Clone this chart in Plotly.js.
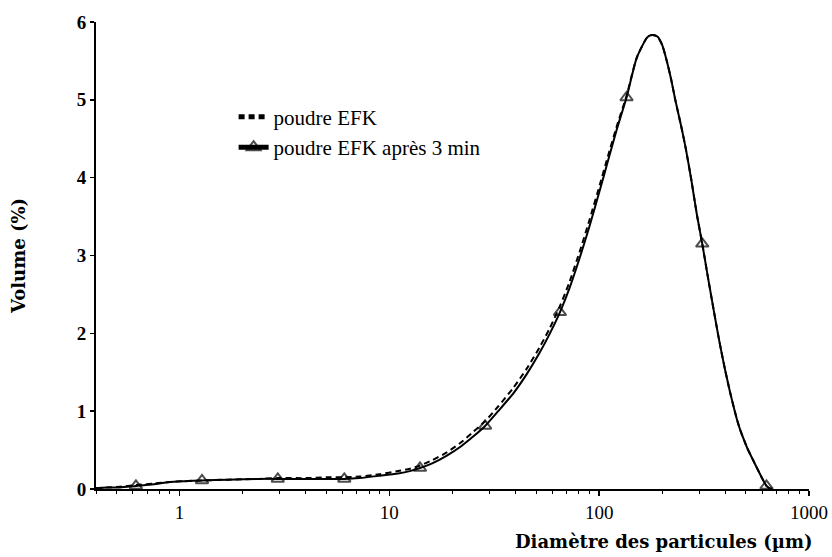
<!DOCTYPE html>
<html>
<head>
<meta charset="utf-8">
<script src="https://cdn.plot.ly/plotly-3.0.1.min.js"></script>
<style>
  html, body { margin: 0; padding: 0; background: #fff; }
  #chart { width: 832px; height: 557px; }
</style>
</head>
<body>
<div id="chart"></div>
<script>
// Particle size distribution (laser diffraction), volume % per size class
const diam = [0.40, 0.45, 0.52, 0.62, 0.75, 0.90, 1.05, 1.28, 1.7, 2.4, 2.94, 4.0, 5.0, 6.1, 7.2, 9.0,
  11, 12.5, 14.0, 16, 18.8, 22, 25,
  28.6, 33, 39, 45, 52, 58, 65, 72, 81, 90, 101, 110, 121, 135,
  151, 169, 176, 183, 190, 200, 210, 220, 231, 246, 258, 275, 292, 310, 327, 345, 365, 380, 399, 420,
  438, 455, 470, 490, 507, 535, 565, 600, 627, 650, 670];

// poudre EFK (dashed)
const volEFK = [0.01, 0.02, 0.03, 0.05, 0.07, 0.09, 0.10, 0.11, 0.12, 0.13, 0.14, 0.14, 0.15, 0.15, 0.16, 0.19,
  0.23, 0.26, 0.30, 0.37, 0.47, 0.60, 0.73,
  0.87, 1.06, 1.30, 1.54, 1.82, 2.06, 2.35, 2.65, 3.06, 3.46, 3.92, 4.27, 4.65, 5.05,
  5.54, 5.80, 5.83, 5.83, 5.81, 5.70, 5.50, 5.27, 4.99, 4.66, 4.39, 3.97, 3.53, 3.15, 2.78, 2.42, 2.05, 1.80, 1.52, 1.25,
  1.05, 0.88, 0.76, 0.63, 0.53, 0.40, 0.27, 0.13, 0.04, 0.01, 0.00];

// poudre EFK après 3 min (solid with triangles)
const volEFK3min = [0.01, 0.02, 0.02, 0.04, 0.06, 0.09, 0.10, 0.11, 0.12, 0.13, 0.13, 0.13, 0.13, 0.13, 0.14, 0.17,
  0.20, 0.23, 0.27, 0.33, 0.43, 0.55, 0.67,
  0.81, 1.00, 1.23, 1.47, 1.75, 1.99, 2.27, 2.57, 2.98, 3.38, 3.85, 4.21, 4.61, 5.03,
  5.54, 5.80, 5.83, 5.83, 5.81, 5.70, 5.50, 5.27, 4.99, 4.66, 4.39, 3.97, 3.53, 3.15, 2.78, 2.42, 2.05, 1.80, 1.52, 1.25,
  1.05, 0.88, 0.76, 0.63, 0.53, 0.40, 0.27, 0.13, 0.04, 0.01, 0.00];

// size classes carrying a triangle symbol on the "après 3 min" curve
const markedDiam = [0.62, 1.28, 2.94, 6.1, 14.0, 28.6, 65, 135, 310, 627];

const yTickVals = [0, 1, 2, 3, 4, 5, 6];
const xTickVals = [1, 10, 100, 1000];
const xTickText = ['1', '10', '100', '1000'];

const seriesNames = ['poudre EFK', 'poudre EFK après 3 min'];
const xTitle = 'Diamètre des particules (µm)';
const yTitle = 'Volume (%)';

const markerSizes = diam.map(d => markedDiam.includes(d) ? 11 : 0);

const serif = 'Liberation Serif, Times New Roman, serif';
const titleFont = 'DejaVu Serif, serif';

const traces = [
  {
    x: diam, y: volEFK, name: seriesNames[0],
    type: 'scatter', mode: 'lines',
    line: { color: '#000', width: 2, dash: '6px,4px', shape: 'spline', smoothing: 0.6 },
    hoverinfo: 'x+y'
  },
  {
    x: diam, y: volEFK3min, name: seriesNames[1],
    type: 'scatter', mode: 'lines+markers',
    line: { color: '#000', width: 2, shape: 'spline', smoothing: 0.6 },
    marker: { symbol: 'triangle-up-open', size: markerSizes, color: '#000',
              line: { color: '#000', width: 2 } },
    hoverinfo: 'x+y'
  }
];

const layout = {
  width: 832, height: 557,
  margin: { l: 96, r: 23, t: 22, b: 68 },
  paper_bgcolor: '#fff', plot_bgcolor: '#fff',
  showlegend: true,
  legend: {
    x: 0.193, y: 0.84, xanchor: 'left', yanchor: 'top',
    bgcolor: 'rgba(0,0,0,0)', borderwidth: 0,
    font: { family: serif, size: 21, color: '#000' },
    itemsizing: 'constant', itemwidth: 30, tracegroupgap: 0
  },
  xaxis: {
    type: 'log', range: [Math.log10(0.4), 3],
    tickvals: xTickVals, ticktext: xTickText,
    ticks: 'outside', ticklen: 5, tickwidth: 1.5, tickcolor: '#000',
    minor: { ticks: 'outside', ticklen: 3, tickwidth: 1, tickcolor: '#000', dtick: 'D1', showgrid: false },
    showline: true, linecolor: '#000', linewidth: 2,
    showgrid: false, zeroline: false,
    tickfont: { family: serif, size: 19, color: '#000' }
  },
  yaxis: {
    range: [0, 6], tickvals: yTickVals,
    ticks: 'outside', ticklen: 4, tickwidth: 1.5, tickcolor: '#000',
    showline: true, linecolor: '#000', linewidth: 2,
    showgrid: false, zeroline: false,
    tickfont: { family: serif, size: 19, weight: 'bold', color: '#000' },
    title: { text: yTitle, standoff: 46,
             font: { family: titleFont, size: 18, weight: 'bold', color: '#000' } }
  },
  annotations: [
    {
      text: xTitle, xref: 'paper', yref: 'paper', x: 1.007, y: 0, yshift: -52,
      xanchor: 'right', yanchor: 'middle', showarrow: false,
      font: { family: titleFont, size: 18, weight: 'bold', color: '#000' }
    }
  ]
};

Plotly.newPlot('chart', traces, layout, { displayModeBar: false, staticPlot: true });
</script>
</body>
</html>
